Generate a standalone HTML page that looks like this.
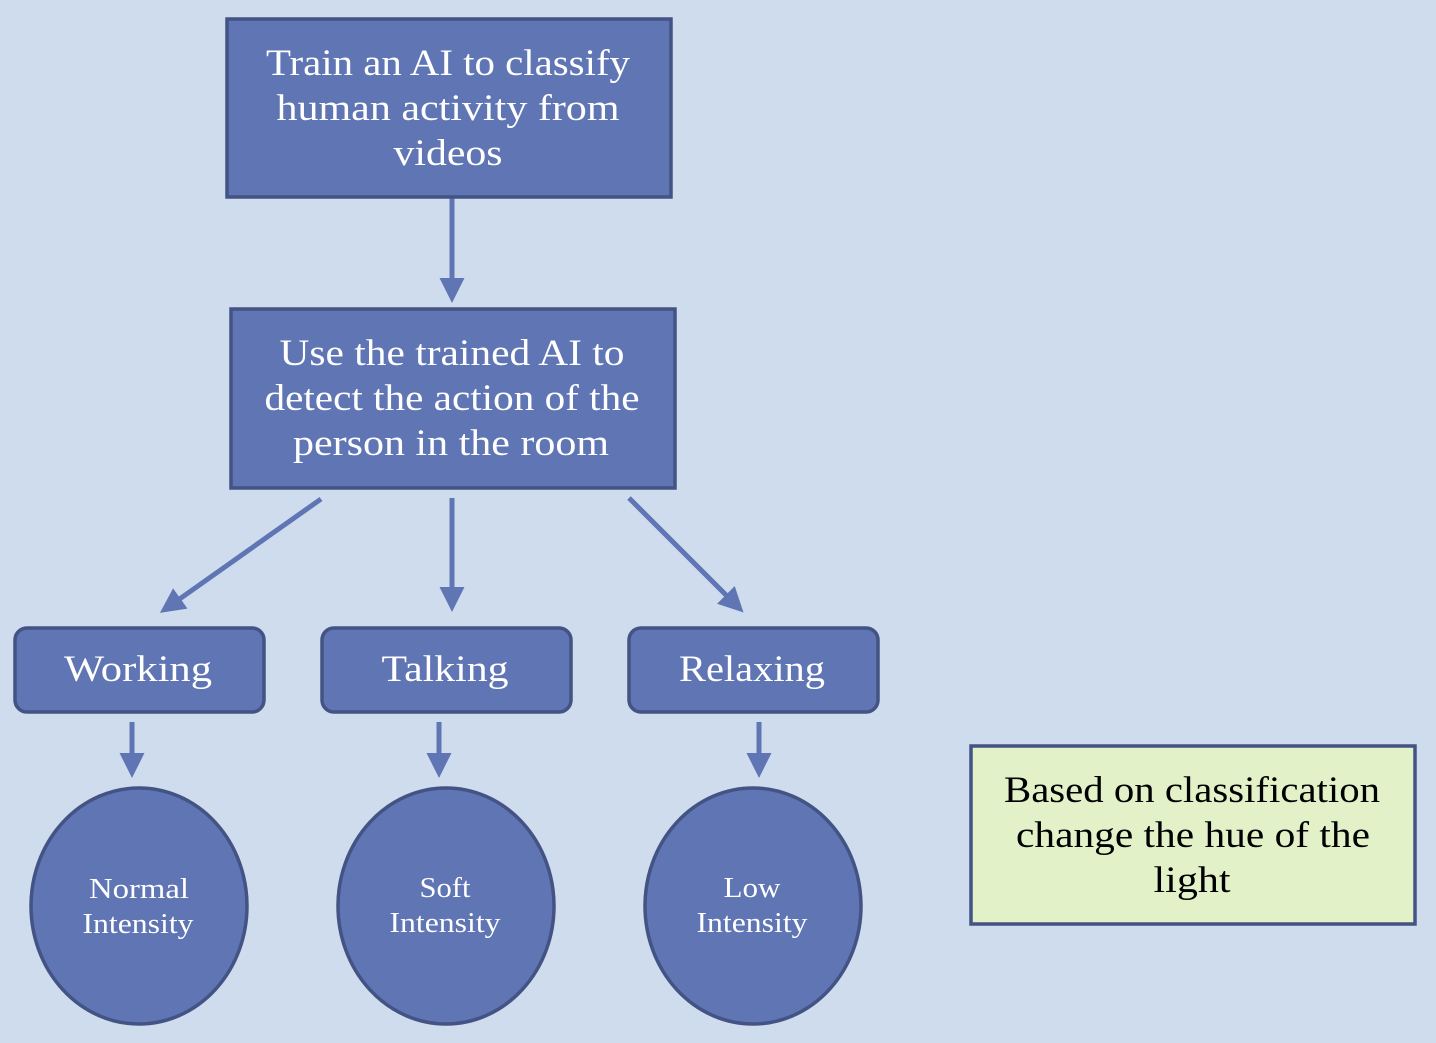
<!DOCTYPE html>
<html><head><meta charset="utf-8"><style>
html,body{margin:0;padding:0;background:#cfdcee;}
svg{display:block;}
text{font-family:"Liberation Serif",serif;text-anchor:middle;}
</style></head><body>
<svg width="1436" height="1043" viewBox="0 0 1436 1043">
<defs>
<marker id="ah" markerWidth="5" markerHeight="5" refX="4" refY="2.5" orient="auto" markerUnits="strokeWidth">
<path d="M0,0 L5,2.5 L0,5 z" fill="#5f75b4"/>
</marker>
</defs>
<rect width="1436" height="1043" fill="#cfdcee"/>
<g stroke="#5f75b4" stroke-width="5" fill="none" marker-end="url(#ah)">
<line x1="452" y1="198" x2="452" y2="298"/>
<line x1="321" y1="499" x2="164" y2="610"/>
<line x1="452" y1="498" x2="452" y2="607"/>
<line x1="629" y1="498" x2="740" y2="609"/>
<line x1="132" y1="722" x2="132" y2="773"/>
<line x1="439" y1="722" x2="439" y2="773"/>
<line x1="759" y1="722" x2="759" y2="773"/>
</g>
<g fill="#5f75b4" stroke="#435384" stroke-width="3.5">
<rect x="227" y="19" width="444" height="178"/>
<rect x="231" y="309" width="444" height="179"/>
<rect x="15" y="628" width="249" height="84" rx="12"/>
<rect x="322" y="628" width="249" height="84" rx="12"/>
<rect x="629" y="628" width="249" height="84" rx="12"/>
<ellipse cx="139" cy="906" rx="108" ry="118"/>
<ellipse cx="446" cy="906" rx="108" ry="118"/>
<ellipse cx="753" cy="906" rx="108" ry="118"/>
</g>
<rect x="971" y="746" width="444" height="178" fill="#e3f1c9" stroke="#435384" stroke-width="3.5"/>
<g fill="#fff" font-size="37" lengthAdjust="spacingAndGlyphs">
<text x="448" y="75" textLength="364" lengthAdjust="spacingAndGlyphs">Train an AI to classify</text>
<text x="448" y="120" textLength="343" lengthAdjust="spacingAndGlyphs">human activity from</text>
<text x="448" y="165" textLength="109" lengthAdjust="spacingAndGlyphs">videos</text>
<text x="452" y="365" textLength="345" lengthAdjust="spacingAndGlyphs">Use the trained AI to</text>
<text x="452" y="410" textLength="375" lengthAdjust="spacingAndGlyphs">detect the action of the</text>
<text x="451" y="455" textLength="316" lengthAdjust="spacingAndGlyphs">person in the room</text>
<text x="138" y="681" textLength="148" lengthAdjust="spacingAndGlyphs">Working</text>
<text x="445" y="681" textLength="127" lengthAdjust="spacingAndGlyphs">Talking</text>
<text x="752" y="681" textLength="146" lengthAdjust="spacingAndGlyphs">Relaxing</text>
</g>
<g fill="#fff" font-size="28">
<text x="139" y="898" textLength="100" lengthAdjust="spacingAndGlyphs">Normal</text>
<text x="138" y="933" textLength="111" lengthAdjust="spacingAndGlyphs">Intensity</text>
<text x="445" y="897" textLength="51" lengthAdjust="spacingAndGlyphs">Soft</text>
<text x="445" y="932" textLength="111" lengthAdjust="spacingAndGlyphs">Intensity</text>
<text x="752" y="897" textLength="57" lengthAdjust="spacingAndGlyphs">Low</text>
<text x="752" y="932" textLength="111" lengthAdjust="spacingAndGlyphs">Intensity</text>
</g>
<g fill="#000" font-size="37">
<text x="1192" y="802" textLength="376" lengthAdjust="spacingAndGlyphs">Based on classification</text>
<text x="1193" y="847" textLength="354" lengthAdjust="spacingAndGlyphs">change the hue of the</text>
<text x="1192" y="892" textLength="77" lengthAdjust="spacingAndGlyphs">light</text>
</g>
</svg>
</body></html>
